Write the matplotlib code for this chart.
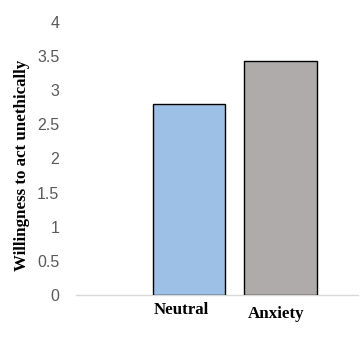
import matplotlib
matplotlib.use("Agg")
import matplotlib.pyplot as plt

conditions = ["Neutral", "Anxiety"]
willingness = [2.80, 3.43]
bar_colors = ["#9dc0e6", "#afabab"]
y_ticks = [0, 0.5, 1, 1.5, 2, 2.5, 3, 3.5, 4]

fig = plt.figure(figsize=(3.63, 3.39), dpi=100)
ax = fig.add_axes([76 / 363, 1 - 295 / 339, (358 - 76) / 363, (295 - 22) / 339])

x = list(range(len(conditions)))
ax.bar(x, willingness, width=0.79, color=bar_colors, edgecolor="black", linewidth=1.0, zorder=3)

ax.set_ylim(0, 4)
ax.set_xlim(-1.235, 1.847)
ax.set_yticks(y_ticks)
ax.set_yticklabels([f"{t:g}" for t in y_ticks], fontfamily="Liberation Sans", fontsize=11.5, color="#595959")
ax.tick_params(axis="y", length=0, pad=12)
ax.tick_params(axis="x", length=0)
ax.set_xticks([])

# category names sit just below the baseline, slightly staggered
for xi, name, dy, dx in zip(x, conditions, [0, 3], [-0.08, -0.05]):
    ax.annotate(name, xy=(xi + dx, 0), xycoords="data", xytext=(0, -11 - dy),
                textcoords="offset points", ha="center", va="center",
                fontfamily="Liberation Serif", fontweight="bold", fontsize=12.2)

for side in ["top", "right", "left"]:
    ax.spines[side].set_visible(False)
ax.spines["bottom"].set_color("#d9d9d9")
ax.spines["bottom"].set_linewidth(1.0)

fig.text(22 / 363, 1 - 165 / 339, "Willingness to act unethically", rotation=90,
         ha="center", va="center", fontfamily="Liberation Serif", fontweight="bold", fontsize=12.2)

fig.savefig("out.png", dpi=100, facecolor="white")
